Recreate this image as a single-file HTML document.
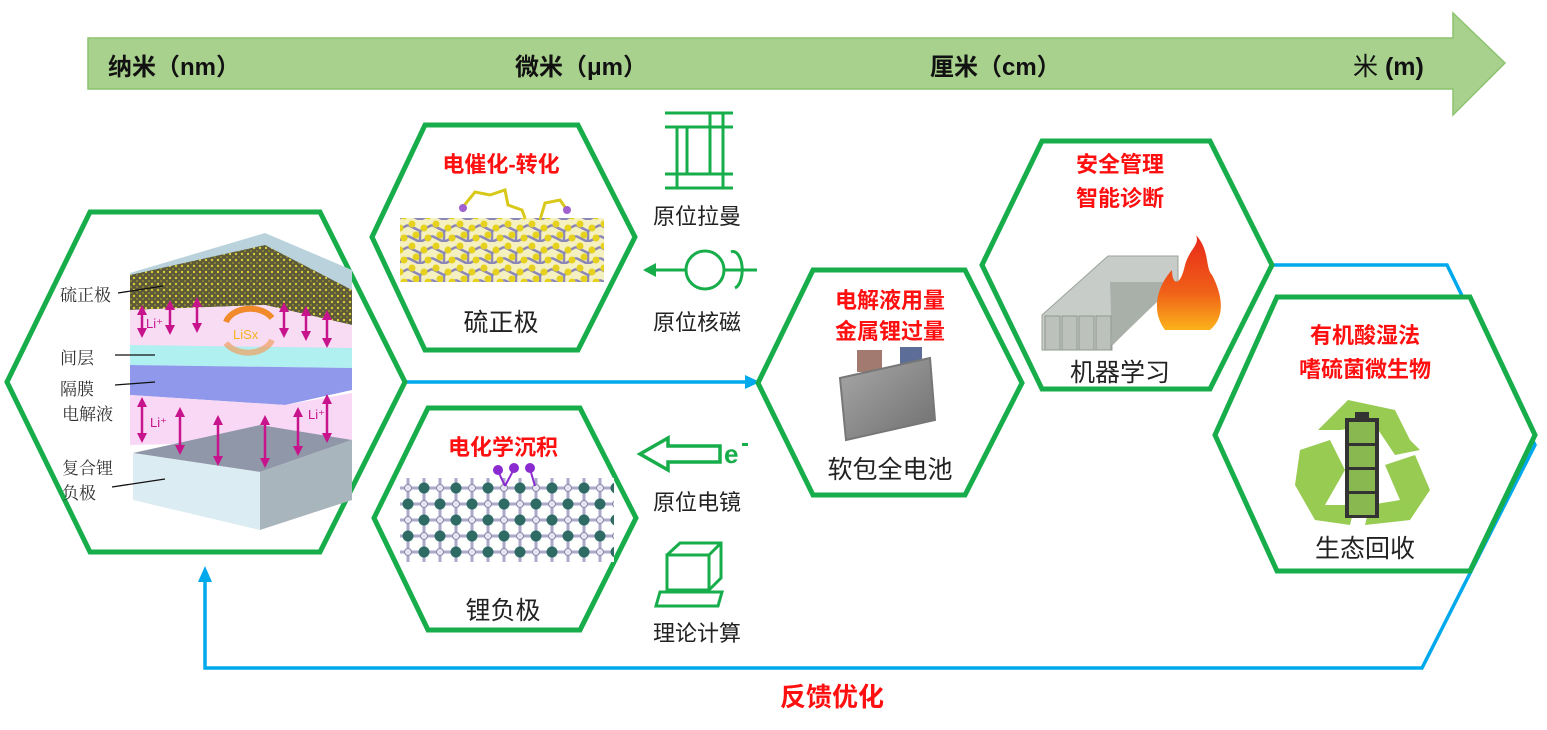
<!DOCTYPE html>
<html><head><meta charset="utf-8">
<style>
html,body{margin:0;padding:0;background:#fff;}
svg{display:block;}
text{font-family:"Liberation Sans","Noto Sans CJK SC",sans-serif;}
.sf{font-family:"Liberation Serif","Noto Serif CJK SC",serif;}
</style></head>
<body>
<svg width="1547" height="730" viewBox="0 0 1547 730" xmlns="http://www.w3.org/2000/svg">
<defs>
  <pattern id="sulf" width="24" height="22" patternUnits="userSpaceOnUse">
    <rect width="24" height="22" fill="#f4f0c0"/>
    <path d="M0 5 L12 11 L24 5 M0 16 L12 22 M12 11 L12 22 M24 16 L12 22" stroke="#8a86b8" stroke-width="2.5" fill="none"/>
    <circle cx="4" cy="4" r="3.5" fill="#e6d21e"/><circle cx="16" cy="8" r="3.5" fill="#e6d21e"/>
    <circle cx="8" cy="15" r="3.5" fill="#e6d21e"/><circle cx="20" cy="18" r="3.5" fill="#e6d21e"/>
  </pattern>
  <pattern id="latt" width="32" height="32" patternUnits="userSpaceOnUse">
    <rect width="32" height="32" fill="#fff"/>
    <path d="M0 8 H32 M0 24 H32 M8 0 V32 M24 0 V32" stroke="#a9a9cc" stroke-width="3"/>
    <circle cx="8" cy="8" r="5.5" fill="#2f6b62"/><circle cx="24" cy="24" r="5.5" fill="#2f6b62"/>
    <circle cx="24" cy="8" r="3.5" fill="#e6e6f2" stroke="#8888aa"/><circle cx="8" cy="24" r="3.5" fill="#e6e6f2" stroke="#8888aa"/>
  </pattern>
  <pattern id="sdot" width="6" height="6" patternUnits="userSpaceOnUse">
    <rect width="6" height="6" fill="#5d5a3a"/><circle cx="2" cy="2" r="1.2" fill="#d8cc3a"/><circle cx="5" cy="5" r="0.9" fill="#a89c30"/>
  </pattern>
  <linearGradient id="pg" x1="0" y1="0" x2="1" y2="1"><stop offset="0" stop-color="#a8a8a8"/><stop offset="1" stop-color="#6f6f6f"/></linearGradient>
  <linearGradient id="fire" x1="0" y1="0" x2="0" y2="1"><stop offset="0" stop-color="#e8281a"/><stop offset="0.6" stop-color="#f06018"/><stop offset="1" stop-color="#fbb21a"/></linearGradient>
  <marker id="mh" viewBox="0 0 10 10" refX="5" refY="5" markerWidth="4" markerHeight="4" orient="auto-start-reverse"><path d="M0 0 L10 5 L0 10 Z" fill="#c8148c"/></marker>
</defs>

<polygon points="88,38 1453,38 1453,13 1505,63 1453,115 1453,89 88,89" fill="#a9d18e" stroke="#8cc46e" stroke-width="1.5"/>
<text x="108" y="75" font-size="24" font-weight="bold" fill="#111">纳米（nm）</text>
<text x="515" y="75" font-size="24" font-weight="bold" fill="#111">微米（μm）</text>
<text x="930" y="75" font-size="24" font-weight="bold" fill="#111">厘米（cm）</text>
<text x="1353" y="75" font-size="25" fill="#111">米 <tspan font-weight="bold">(m)</tspan></text>

<g stroke="#00a8ec" stroke-width="3.5" fill="none">
  <line x1="405" y1="382" x2="748" y2="382"/>
  <polyline points="1272,265 1447,265 1535,445 1422,668 205,668 205,580"/>
</g>
<polygon points="745,375 760,382 745,389" fill="#00a8ec"/>
<polygon points="198,582 205,566 212,582" fill="#00a8ec"/>

<g fill="#fff" stroke="#16ad4a" stroke-width="5">
  <polygon points="90,212 320,212 405,382 320,552 90,552 7,382"/>
  <polygon points="425,125 578,125 635,237 578,350 425,350 372,237"/>
  <polygon points="428,408 580,408 636,518 580,630 428,630 374,518"/>
  <polygon points="813,270 965,270 1022,383 965,495 813,495 758,383"/>
  <polygon points="1042,141 1210,141 1272,265 1210,389 1042,389 982,265"/>
  <polygon points="1277,297 1470,297 1535,435 1470,571 1277,571 1215,435"/>
</g>

<!-- left battery stack -->
<polygon points="130,273 265,233 352,270 352,290 130,290" fill="#b9d2dc"/>
<polygon points="130,275 265,245 352,290 352,325 265,305 130,310" fill="url(#sdot)"/>
<polygon points="130,310 265,305 352,325 352,350 130,345" fill="#f7dcf3"/>
<polygon points="130,345 352,348 352,368 130,365" fill="#a8eef0" opacity="0.9"/>
<polygon points="130,365 352,368 352,390 285,405 130,395" fill="#7b86e8" opacity="0.85"/>
<polygon points="130,395 285,405 352,393 352,440 130,445" fill="#f9d8f5"/>
<polygon points="133,453 260,425 352,440 260,472" fill="#8f97a8"/>
<polygon points="133,453 260,472 260,530 133,500" fill="#dcecf3"/>
<polygon points="260,472 352,440 352,500 260,530" fill="#a9b5bd"/>
<g stroke="#c8148c" stroke-width="2.5" marker-start="url(#mh)" marker-end="url(#mh)">
  <line x1="142" y1="310" x2="142" y2="333"/><line x1="170" y1="305" x2="170" y2="330"/><line x1="197" y1="302" x2="197" y2="328"/>
  <line x1="284" y1="307" x2="284" y2="333"/><line x1="306" y1="311" x2="306" y2="336"/><line x1="327" y1="315" x2="327" y2="343"/>
  <line x1="142" y1="402" x2="142" y2="438"/><line x1="180" y1="412" x2="180" y2="450"/><line x1="218" y1="420" x2="218" y2="461"/>
  <line x1="265" y1="420" x2="265" y2="463"/><line x1="298" y1="412" x2="298" y2="451"/><line x1="327" y1="399" x2="327" y2="438"/>
</g>
<text x="146" y="328" font-size="13" fill="#c8148c">Li⁺</text>
<text x="150" y="427" font-size="13" fill="#c8148c">Li⁺</text>
<text x="308" y="419" font-size="13" fill="#c8148c">Li⁺</text>
<path d="M226 322 A25 18 0 0 1 272 318" stroke="#f08a2a" stroke-width="6" fill="none"/>
<path d="M272 340 A25 18 0 0 1 226 343" stroke="#f0a060" stroke-width="6" fill="none" opacity="0.7"/>
<text x="233" y="339" font-size="13" fill="#f5b21e">LiSx</text>
<g font-size="17" fill="#333">
  <text class="sf" x="60" y="301">硫正极</text>
  <text class="sf" x="60" y="364">间层</text>
  <text class="sf" x="60" y="395">隔膜</text>
  <text class="sf" x="62" y="420">电解液</text>
  <text class="sf" x="62" y="474">复合锂</text>
  <text class="sf" x="62" y="499">负极</text>
</g>
<g stroke="#111" stroke-width="1.3">
  <line x1="118" y1="293" x2="163" y2="286"/><line x1="115" y1="355" x2="155" y2="355"/>
  <line x1="115" y1="385" x2="155" y2="382"/><line x1="112" y1="487" x2="165" y2="479"/>
</g>

<rect x="400" y="218" width="204" height="64" fill="url(#sulf)"/>
<polyline points="462,208 475,192 490,195 505,190 508,205 522,210 525,218" stroke="#d8c81a" stroke-width="3" fill="none"/>
<polyline points="540,220 545,203 560,200 567,210" stroke="#d8c81a" stroke-width="3" fill="none"/>
<circle cx="463" cy="208" r="4" fill="#a060d0"/><circle cx="567" cy="210" r="4" fill="#a060d0"/>
<text x="501" y="172" font-size="22" font-weight="bold" fill="#ff1010" text-anchor="middle">电催化-转化</text>
<text x="501" y="331" font-size="25" fill="#222" text-anchor="middle">硫正极</text>

<rect x="400" y="478" width="214" height="84" fill="url(#latt)"/>
<g stroke="#8a2ad0" stroke-width="2"><line x1="498" y1="471" x2="505" y2="486"/><line x1="514" y1="469" x2="505" y2="486"/><line x1="530" y1="469" x2="535" y2="486"/></g>
<g fill="#8a2ad0"><circle cx="498" cy="470" r="5"/><circle cx="514" cy="468" r="5"/><circle cx="530" cy="468" r="5"/></g>
<text x="503" y="455" font-size="22" font-weight="bold" fill="#ff1010" text-anchor="middle">电化学沉积</text>
<text x="503" y="619" font-size="25" fill="#222" text-anchor="middle">锂负极</text>

<g stroke="#16ad4a" stroke-width="3" fill="none">
  <line x1="665" y1="113" x2="733" y2="113"/><line x1="665" y1="127" x2="733" y2="127"/>
  <line x1="665" y1="174" x2="733" y2="174"/><line x1="665" y1="188" x2="733" y2="188"/>
  <line x1="677" y1="188" x2="677" y2="127"/><line x1="687" y1="127" x2="687" y2="174"/>
  <line x1="710" y1="174" x2="710" y2="113"/><line x1="723" y1="113" x2="723" y2="188"/>
  <circle cx="705" cy="270" r="19"/><line x1="645" y1="270" x2="686" y2="270"/><line x1="724" y1="270" x2="757" y2="270"/>
  <path d="M731 252 A9 18 0 0 1 735 288"/>
  <polygon points="720,446 720,462 668,462 668,470 640,454 668,438 668,446" stroke-width="3.5"/>
  <rect x="667" y="555" width="42" height="35"/><polyline points="667,555 680,543 721,543 721,578 709,590"/><line x1="709" y1="555" x2="721" y2="543"/>
  <polygon points="660,592 722,592 718,606 656,606"/>
</g>
<polygon points="643,270 656,263 656,277" fill="#16ad4a"/>
<text x="724" y="463" font-size="26" font-weight="bold" fill="#16ad4a">e</text><rect x="742" y="443" width="6" height="3" fill="#16ad4a"/>
<g font-size="22" fill="#222" text-anchor="middle">
  <text x="697" y="224">原位拉曼</text>
  <text x="697" y="330">原位核磁</text>
  <text x="697" y="510">原位电镜</text>
  <text x="697" y="641">理论计算</text>
</g>

<rect x="857" y="350" width="25" height="22" fill="#a27a70"/><rect x="900" y="347" width="22" height="22" fill="#5c6e98"/>
<polygon points="840,378 930,358 935,420 846,440" fill="url(#pg)" stroke="#777" stroke-width="2"/>
<text x="890" y="308" font-size="22" font-weight="bold" fill="#ff1010" text-anchor="middle">电解液用量</text>
<text x="890" y="339" font-size="22" font-weight="bold" fill="#ff1010" text-anchor="middle">金属锂过量</text>
<text x="890" y="478" font-size="25" fill="#222" text-anchor="middle">软包全电池</text>

<polygon points="1042,315 1108,256 1178,256 1178,280 1112,345 1112,350 1042,350" fill="#c8ccc8" stroke="#9aa39a"/>
<polygon points="1110,282 1178,282 1112,345" fill="#a9b0a9"/>
<g fill="#bcc1bc" stroke="#8f988f"><rect x="1045" y="316" width="15" height="34"/><rect x="1062" y="316" width="15" height="34"/><rect x="1079" y="316" width="15" height="34"/><rect x="1096" y="316" width="15" height="34"/></g>
<path d="M1165 330 C1150 310 1158 285 1172 270 C1172 285 1180 288 1185 265 C1190 248 1200 245 1196 235 C1210 250 1205 268 1212 275 C1220 290 1228 315 1210 330 Z" fill="url(#fire)"/>
<text x="1120" y="172" font-size="22" font-weight="bold" fill="#ff1010" text-anchor="middle">安全管理</text>
<text x="1120" y="206" font-size="22" font-weight="bold" fill="#ff1010" text-anchor="middle">智能诊断</text>
<text x="1120" y="381" font-size="25" fill="#222" text-anchor="middle">机器学习</text>

<g fill="#8cc63f" opacity="0.9">
  <path d="M1318 430 L1348 400 L1395 410 L1410 440 L1420 450 L1395 455 L1375 425 L1340 430 Z"/>
  <path d="M1300 450 L1330 440 L1345 470 L1325 505 L1355 505 L1350 525 L1315 520 L1295 485 Z"/>
  <path d="M1385 465 L1415 455 L1430 490 L1410 520 L1365 525 L1370 505 L1400 500 Z"/>
</g>
<rect x="1345" y="418" width="34" height="100" fill="#333"/><rect x="1355" y="412" width="14" height="8" fill="#333"/>
<g fill="#8ab850"><rect x="1349" y="422" width="26" height="21"/><rect x="1349" y="446" width="26" height="21"/><rect x="1349" y="470" width="26" height="21"/><rect x="1349" y="494" width="26" height="21"/></g>
<text x="1365" y="343" font-size="22" font-weight="bold" fill="#ff1010" text-anchor="middle">有机酸湿法</text>
<text x="1365" y="377" font-size="22" font-weight="bold" fill="#ff1010" text-anchor="middle">嗜硫菌微生物</text>
<text x="1365" y="557" font-size="25" fill="#222" text-anchor="middle">生态回收</text>

<text x="832" y="706" font-size="26" font-weight="bold" fill="#ff1010" text-anchor="middle">反馈优化</text>
</svg>
</body></html>
